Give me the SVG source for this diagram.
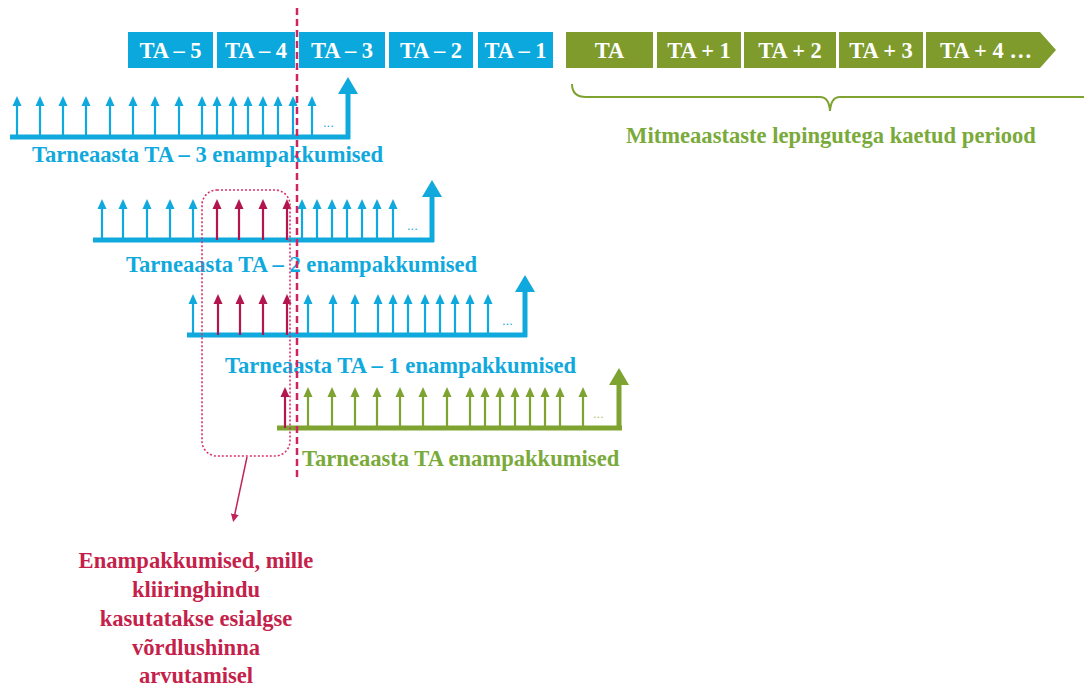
<svg xmlns="http://www.w3.org/2000/svg" xmlns:xlink="http://www.w3.org/1999/xlink" width="1084" height="687" viewBox="0 0 1084 687">
<style>
.box-b{fill:#0aa8dc}
.box-g{fill:#7e9b2c}
.bt{font-family:"Liberation Serif",serif;font-weight:bold;font-size:22.5px;fill:#ffffff;text-anchor:middle}
.lab{font-family:"Liberation Serif",serif;font-weight:bold;font-size:22.6px}
.blue{fill:#10a9dd;stroke:#10a9dd}
.green{fill:#7ea331;stroke:#7ea331}
.red{fill:#b3154f;stroke:#b3154f}
.tb{fill:#10a9dd}
.tg{fill:#79aa3a}
.tr{fill:#c51f4c}
.base{stroke-width:5;fill:none}
.dots{font-family:"Liberation Sans",sans-serif;font-size:13px;stroke:none}
</style>
<defs>
<g id="sa"><line x1="0" y1="0" x2="0" y2="-33" stroke-width="2.2"/><polygon points="-4.5,-31 0,-41 4.5,-31" stroke="none"/></g>
<g id="ba"><line x1="0" y1="2" x2="0" y2="-44" stroke-width="5"/><polygon points="-10,-43 0,-60 10,-43" stroke="none"/></g>
<marker id="mh" markerWidth="8" markerHeight="8" refX="4" refY="4" orient="auto" markerUnits="userSpaceOnUse"><path d="M0,0 L8,4 L0,8 Z" fill="#c0245a"/></marker>
</defs>

<g id="years">
<g id="ta-5"><rect class="box-b" x="128" y="32" width="85" height="36"/><text class="bt" x="170.5" y="58">TA – 5</text></g>
<g id="ta-4"><rect class="box-b" x="217" y="32" width="78" height="36"/><text class="bt" x="256" y="58">TA – 4</text></g>
<g id="ta-3"><rect class="box-b" x="299" y="32" width="86" height="36"/><text class="bt" x="342" y="58">TA – 3</text></g>
<g id="ta-2"><rect class="box-b" x="389" y="32" width="84" height="36"/><text class="bt" x="431" y="58">TA – 2</text></g>
<g id="ta-1"><rect class="box-b" x="478" y="32" width="75" height="36"/><text class="bt" x="515.5" y="58">TA – 1</text></g>
<g id="ta"><rect class="box-g" x="566" y="32" width="87" height="36"/><text class="bt" x="609.5" y="58">TA</text></g>
<g id="ta+1"><rect class="box-g" x="657" y="32" width="84" height="36"/><text class="bt" x="699" y="58">TA + 1</text></g>
<g id="ta+2"><rect class="box-g" x="744" y="32" width="92" height="36"/><text class="bt" x="790" y="58">TA + 2</text></g>
<g id="ta+3"><rect class="box-g" x="839" y="32" width="84" height="36"/><text class="bt" x="881" y="58">TA + 3</text></g>
<g id="ta+4"><path class="box-g" d="M926,32 H1040 L1056,50 L1040,68 H926 Z"/><text class="bt" x="986" y="58">TA + 4 …</text></g>
</g>

<g id="brace">
<path d="M572,84 Q572,97 586,97 H820 Q829,97 830,111 Q831,97 840,97 H1084" fill="none" stroke="#7ea331" stroke-width="2"/>
<text class="lab tg" x="831" y="143" text-anchor="middle">Mitmeaastaste lepingutega kaetud periood</text>
</g>

<g id="timeline-ta-3">
<path class="base blue" d="M10,137 H350"/>
<g class="blue">
<use xlink:href="#sa" x="17" y="137"/><use xlink:href="#sa" x="40" y="137"/><use xlink:href="#sa" x="63" y="137"/><use xlink:href="#sa" x="86" y="137"/><use xlink:href="#sa" x="110" y="137"/><use xlink:href="#sa" x="133" y="137"/><use xlink:href="#sa" x="155" y="137"/><use xlink:href="#sa" x="179" y="137"/><use xlink:href="#sa" x="202" y="137"/><use xlink:href="#sa" x="217" y="137"/><use xlink:href="#sa" x="233" y="137"/><use xlink:href="#sa" x="248" y="137"/><use xlink:href="#sa" x="263" y="137"/><use xlink:href="#sa" x="278" y="137"/><use xlink:href="#sa" x="293" y="137"/><use xlink:href="#sa" x="312" y="137"/>
<use xlink:href="#ba" x="348" y="137"/>
<text class="dots" x="323" y="127">...</text>
</g>
<text class="lab tb" x="32" y="162">Tarneaasta TA – 3 enampakkumised</text>
</g>

<g id="timeline-ta-2">
<path class="base blue" d="M93,240 H434"/>
<g class="blue">
<use xlink:href="#sa" x="102" y="240"/><use xlink:href="#sa" x="123" y="240"/><use xlink:href="#sa" x="147" y="240"/><use xlink:href="#sa" x="170" y="240"/><use xlink:href="#sa" x="193" y="240"/>
<use xlink:href="#sa" x="302" y="240"/><use xlink:href="#sa" x="317" y="240"/><use xlink:href="#sa" x="332" y="240"/><use xlink:href="#sa" x="347" y="240"/><use xlink:href="#sa" x="362" y="240"/><use xlink:href="#sa" x="377" y="240"/><use xlink:href="#sa" x="393" y="240"/>
<use xlink:href="#ba" x="432" y="240"/>
<text class="dots" x="407" y="230">...</text>
</g>
<g class="red"><use xlink:href="#sa" x="217" y="240"/><use xlink:href="#sa" x="239" y="240"/><use xlink:href="#sa" x="263" y="240"/><use xlink:href="#sa" x="287" y="240"/></g>
<text class="lab tb" x="126" y="272">Tarneaasta TA – 2 enampakkumised</text>
</g>

<g id="timeline-ta-1">
<path class="base blue" d="M187,335 H527"/>
<g class="blue">
<use xlink:href="#sa" x="193" y="335"/>
<use xlink:href="#sa" x="308" y="335"/><use xlink:href="#sa" x="333" y="335"/><use xlink:href="#sa" x="355" y="335"/><use xlink:href="#sa" x="378" y="335"/><use xlink:href="#sa" x="393" y="335"/><use xlink:href="#sa" x="408" y="335"/><use xlink:href="#sa" x="425" y="335"/><use xlink:href="#sa" x="440" y="335"/><use xlink:href="#sa" x="455" y="335"/><use xlink:href="#sa" x="470" y="335"/><use xlink:href="#sa" x="488" y="335"/>
<use xlink:href="#ba" x="525" y="335"/>
<text class="dots" x="502" y="325">...</text>
</g>
<g class="red"><use xlink:href="#sa" x="218" y="335"/><use xlink:href="#sa" x="240" y="335"/><use xlink:href="#sa" x="263" y="335"/><use xlink:href="#sa" x="287" y="335"/></g>
<text class="lab tb" x="225" y="373">Tarneaasta TA – 1 enampakkumised</text>
</g>

<g id="timeline-ta">
<path class="base green" d="M277,428 H622"/>
<g class="green">
<use xlink:href="#sa" x="308" y="428"/><use xlink:href="#sa" x="332" y="428"/><use xlink:href="#sa" x="355" y="428"/><use xlink:href="#sa" x="377" y="428"/><use xlink:href="#sa" x="400" y="428"/><use xlink:href="#sa" x="423" y="428"/><use xlink:href="#sa" x="447" y="428"/><use xlink:href="#sa" x="470" y="428"/><use xlink:href="#sa" x="485" y="428"/><use xlink:href="#sa" x="500" y="428"/><use xlink:href="#sa" x="515" y="428"/><use xlink:href="#sa" x="530" y="428"/><use xlink:href="#sa" x="545" y="428"/><use xlink:href="#sa" x="560" y="428"/><use xlink:href="#sa" x="583" y="428"/>
<use xlink:href="#ba" x="619" y="428"/>
<text class="dots" x="593" y="418" fill="#a9c46a">...</text>
</g>
<g class="red"><use xlink:href="#sa" x="285" y="428"/></g>
<text class="lab tg" x="302" y="466">Tarneaasta TA enampakkumised</text>
</g>

<g id="divider">
<line x1="297" y1="8" x2="297" y2="478" stroke="#d0245e" stroke-width="2.5" stroke-dasharray="7,4"/>
</g>

<g id="selection">
<rect x="202" y="190" width="88" height="266" rx="15" fill="none" stroke="#d9336e" stroke-width="1.6" stroke-dasharray="2,2"/>
</g>

<g id="connectors">
<line x1="247" y1="457" x2="234" y2="518" stroke="#c0245a" stroke-width="1.5" marker-end="url(#mh)"/>
</g>

<g id="note">
<text class="lab tr" text-anchor="middle" x="196"><tspan x="196" y="568">Enampakkumised, mille</tspan><tspan x="196" y="597">kliiringhindu</tspan><tspan x="196" y="626">kasutatakse esialgse</tspan><tspan x="196" y="655">võrdlushinna</tspan><tspan x="196" y="683">arvutamisel</tspan></text>
</g>
</svg>
